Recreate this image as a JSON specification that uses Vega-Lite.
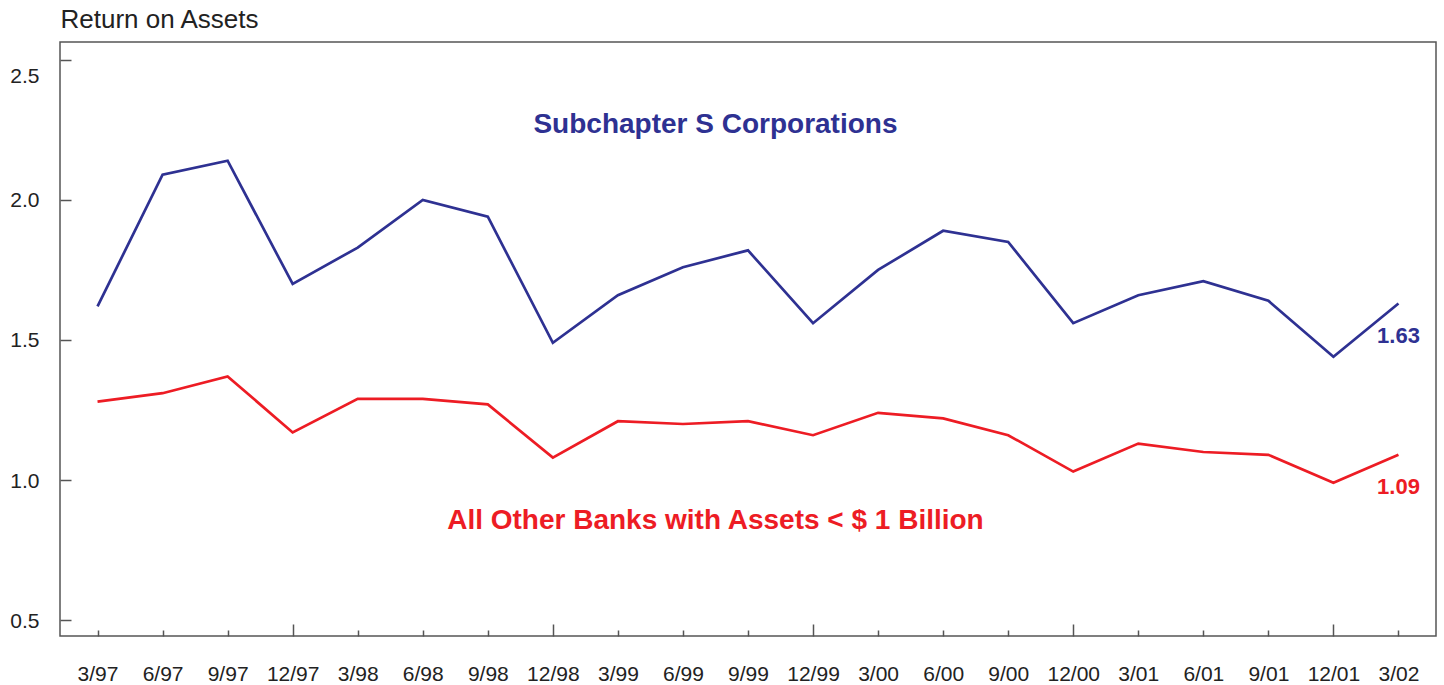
{
  "$schema": "https://vega.github.io/schema/vega-lite/v6.json",
  "width": 1376,
  "height": 594,
  "autosize": {"type": "none"},
  "padding": {"left": 60, "top": 42, "right": 8, "bottom": 49},
  "background": "white",
  "config": {
    "view": {"stroke": "#555555", "strokeWidth": 1.5},
    "font": "Liberation Sans"
  },
  "data": {
    "values": [
      {"q": "3/97", "subS": 1.62, "other": 1.28},
      {"q": "6/97", "subS": 2.09, "other": 1.31},
      {"q": "9/97", "subS": 2.14, "other": 1.37},
      {"q": "12/97", "subS": 1.70, "other": 1.17},
      {"q": "3/98", "subS": 1.83, "other": 1.29},
      {"q": "6/98", "subS": 2.00, "other": 1.29},
      {"q": "9/98", "subS": 1.94, "other": 1.27},
      {"q": "12/98", "subS": 1.49, "other": 1.08},
      {"q": "3/99", "subS": 1.66, "other": 1.21},
      {"q": "6/99", "subS": 1.76, "other": 1.20},
      {"q": "9/99", "subS": 1.82, "other": 1.21},
      {"q": "12/99", "subS": 1.56, "other": 1.16},
      {"q": "3/00", "subS": 1.75, "other": 1.24},
      {"q": "6/00", "subS": 1.89, "other": 1.22},
      {"q": "9/00", "subS": 1.85, "other": 1.16},
      {"q": "12/00", "subS": 1.56, "other": 1.03},
      {"q": "3/01", "subS": 1.66, "other": 1.13},
      {"q": "6/01", "subS": 1.71, "other": 1.10},
      {"q": "9/01", "subS": 1.64, "other": 1.09},
      {"q": "12/01", "subS": 1.44, "other": 0.99},
      {"q": "3/02", "subS": 1.63, "other": 1.09}
    ]
  },
  "encoding": {
    "x": {
      "field": "q",
      "type": "ordinal",
      "sort": null,
      "scale": {"type": "point", "padding": 0.577},
      "axis": {
        "title": null,
        "labelAngle": 0,
        "labelFontSize": 21,
        "labelColor": "#222222",
        "labelPadding": {"condition": {"test": "indexof(datum.value, '12/') == 0", "value": 39}, "value": 33},
        "tickSize": {"condition": {"test": "indexof(datum.value, '12/') == 0", "value": -12}, "value": -6},
        "tickColor": "#555555",
        "tickWidth": 1.5,
        "domain": false,
        "grid": false
      }
    }
  },
  "layer": [
    {
      "mark": {"type": "line", "color": "#2E3192", "strokeWidth": 2.7},
      "encoding": {
        "y": {
          "field": "subS",
          "type": "quantitative",
          "title": "Return on Assets",
          "scale": {"domain": [0.443, 2.564], "nice": false, "zero": false},
          "axis": {
            "values": [0.5, 1, 1.5, 2, 2.5],
            "format": ".1f",
            "titleAngle": 0,
            "titleAlign": "left",
            "titleBaseline": "alphabetic",
            "titleX": 0,
            "titleY": -15,
            "titleFontSize": 26,
            "titleFontWeight": "normal",
            "titleColor": "#222222",
            "labelFontSize": 21,
            "labelColor": "#222222",
            "labelPadding": 32,
            "labelOffset": {"condition": {"test": "datum.value == 2.5", "value": 17}, "value": 1},
            "tickSize": -11,
            "tickColor": "#555555",
            "tickWidth": 1.5,
            "domain": false,
            "grid": false
          }
        }
      }
    },
    {
      "mark": {"type": "line", "color": "#ED1C24", "strokeWidth": 2.7},
      "encoding": {
        "y": {"field": "other", "type": "quantitative", "title": "Return on Assets"}
      }
    },
    {
      "transform": [{"filter": "datum.q == '3/02'"}],
      "mark": {"type": "text", "dy": 32, "fontSize": 22, "fontWeight": "bold", "color": "#2E3192", "align": "center", "baseline": "middle"},
      "encoding": {
        "y": {"field": "subS", "type": "quantitative", "title": "Return on Assets"},
        "text": {"field": "subS", "type": "quantitative", "format": ".2f"}
      }
    },
    {
      "transform": [{"filter": "datum.q == '3/02'"}],
      "mark": {"type": "text", "dy": 32, "fontSize": 22, "fontWeight": "bold", "color": "#ED1C24", "align": "center", "baseline": "middle"},
      "encoding": {
        "y": {"field": "other", "type": "quantitative", "title": "Return on Assets"},
        "text": {"field": "other", "type": "quantitative", "format": ".2f"}
      }
    },
    {
      "data": {"values": [{"label": "Subchapter S Corporations"}]},
      "mark": {"type": "text", "dx": 32.5, "fontSize": 28, "fontWeight": "bold", "color": "#2E3192", "align": "center", "baseline": "middle"},
      "encoding": {
        "x": {"datum": "6/99"},
        "y": {"datum": 2.268},
        "text": {"field": "label"}
      }
    },
    {
      "data": {"values": [{"label": "All Other Banks with Assets < $ 1 Billion"}]},
      "mark": {"type": "text", "dx": 32.5, "fontSize": 28, "fontWeight": "bold", "color": "#ED1C24", "align": "center", "baseline": "middle"},
      "encoding": {
        "x": {"datum": "6/99"},
        "y": {"datum": 0.854},
        "text": {"field": "label"}
      }
    }
  ]
}
